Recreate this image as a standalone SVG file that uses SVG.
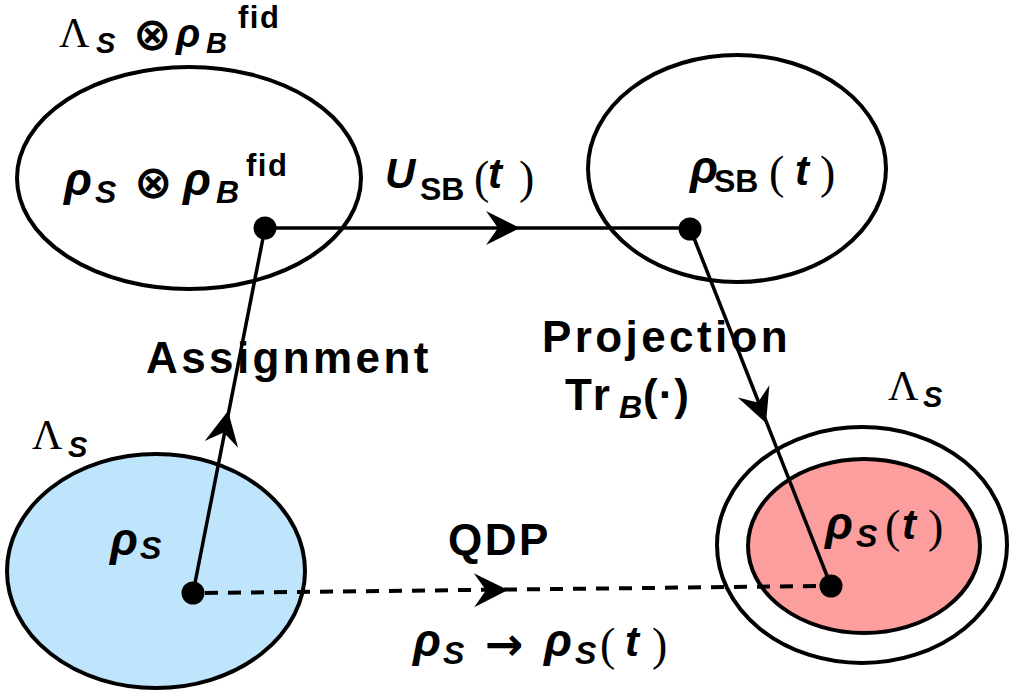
<svg xmlns="http://www.w3.org/2000/svg" xmlns:xlink="http://www.w3.org/1999/xlink" width="1009" height="695" viewBox="0 0 1009 695">
<style>
.ell{stroke:#000;stroke-width:4;}
.ln{stroke:#000;stroke-width:3.5;fill:none;}
.dash{stroke:#000;stroke-width:4;fill:none;stroke-dasharray:13 10;}
.dot{fill:#000;}
.rho{font-family:"Liberation Sans",Arial,sans-serif;font-style:italic;font-weight:bold;font-size:46px;}
.rhos{font-family:"Liberation Sans",Arial,sans-serif;font-style:italic;font-weight:bold;font-size:40px;}
.sub{font-family:"Liberation Sans",Arial,sans-serif;font-style:italic;font-weight:bold;font-size:32px;}
.subs{font-family:"Liberation Sans",Arial,sans-serif;font-style:italic;font-weight:bold;font-size:29px;}
.lam{font-family:"Liberation Serif","Times New Roman",serif;font-size:42px;}
.ot{font-family:"DejaVu Sans",sans-serif;font-weight:bold;font-size:46px;}
.par{font-family:"Liberation Serif","Times New Roman",serif;font-size:46px;}
.it{font-family:"Liberation Sans",Arial,sans-serif;font-style:italic;font-weight:bold;font-size:42px;}
.up{font-family:"Liberation Sans",Arial,sans-serif;font-weight:bold;font-size:32px;}
.fid{font-family:"Liberation Sans",Arial,sans-serif;font-weight:bold;font-size:31px;letter-spacing:1.5px;}
.lbl{font-family:"Liberation Sans",Arial,sans-serif;font-weight:bold;font-size:44px;letter-spacing:3.4px;}
.arr{font-family:"DejaVu Sans",sans-serif;font-weight:bold;font-size:46px;}
</style>
<defs>
<path id="ah" d="M0,0 L-34,-17 L-22,0 L-34,17 Z" fill="#000"/>
</defs>
<rect width="1009" height="695" fill="#fff"/>

<g id="node-joint">
<ellipse class="ell" cx="189" cy="178" rx="172" ry="111" fill="#fff"/>
<text><tspan class="lam" x="59" y="47">Λ</tspan><tspan class="subs" x="96" y="53">S</tspan><tspan class="ot" x="133" y="50">⊗</tspan><tspan class="rhos" x="176" y="47">ρ</tspan><tspan class="subs" x="206" y="53">B</tspan><tspan class="fid" x="238" y="28">fid</tspan></text>
<text><tspan class="rho" x="64" y="195">ρ</tspan><tspan class="sub" x="95" y="203">S</tspan><tspan class="ot" x="134" y="198">⊗</tspan><tspan class="rho" x="183" y="195">ρ</tspan><tspan class="sub" x="216" y="203">B</tspan><tspan class="fid" x="246" y="176">fid</tspan></text>
</g>

<g id="node-evolved">
<ellipse class="ell" cx="737" cy="168.5" rx="149" ry="113.5" fill="#fff"/>
<text><tspan class="rho" x="690" y="183">ρ</tspan><tspan class="up" x="714" y="192">SB</tspan><tspan class="par" x="769" y="188">(</tspan><tspan class="it" x="795" y="185">t</tspan><tspan class="par" x="820" y="188">)</tspan></text>
</g>

<g id="node-initial">
<ellipse class="ell" cx="156" cy="571" rx="149" ry="117" fill="#bfe5fc"/>
<text><tspan class="lam" x="32" y="449">Λ</tspan><tspan class="subs" x="68" y="457">S</tspan></text>
<text><tspan class="rho" x="110" y="555">ρ</tspan><tspan class="sub" x="140" y="559">S</tspan></text>
</g>

<g id="node-final">
<ellipse class="ell" cx="862" cy="545" rx="145" ry="118" fill="#fff"/>
<ellipse class="ell" cx="864" cy="546" rx="116" ry="87" fill="#fd9e9e"/>
<text><tspan class="lam" x="888" y="400">Λ</tspan><tspan class="subs" x="923" y="407">S</tspan></text>
<text><tspan class="rho" x="825" y="539">ρ</tspan><tspan class="sub" x="856" y="547">S</tspan><tspan class="par" x="885" y="542">(</tspan><tspan class="it" x="902" y="539">t</tspan><tspan class="par" x="928" y="542">)</tspan></text>
</g>

<g id="connectors">
<line class="ln" x1="265" y1="228" x2="690" y2="228"/>
<line class="ln" x1="193" y1="593" x2="265" y2="228"/>
<line class="ln" x1="690" y1="228" x2="831" y2="586"/>
<line class="dash" x1="205" y1="593" x2="820" y2="586"/>
<use xlink:href="#ah" transform="translate(520,228)"/>
<use xlink:href="#ah" transform="translate(228,411) rotate(-78.8)"/>
<use xlink:href="#ah" transform="translate(766,423) rotate(68.5)"/>
<use xlink:href="#ah" transform="translate(508,590) rotate(-0.6)"/>
<circle class="dot" cx="265" cy="228" r="11.5"/>
<circle class="dot" cx="690" cy="229" r="11.5"/>
<circle class="dot" cx="193" cy="593" r="11.5"/>
<circle class="dot" cx="831" cy="586" r="11.5"/>
<text><tspan class="it" x="385" y="188">U</tspan><tspan class="up" x="420" y="200">SB</tspan><tspan class="par" x="474" y="193">(</tspan><tspan class="it" x="488" y="188">t</tspan><tspan class="par" x="519" y="193">)</tspan></text>
<text class="lbl" x="146" y="373">Assignment</text>
<text class="lbl" x="542" y="352">Projection</text>
<text><tspan class="lbl" x="565" y="410">Tr</tspan><tspan class="sub" x="619" y="418">B</tspan><tspan class="lbl" x="643" y="410" style="letter-spacing:1px">(·)</tspan></text>
<text class="lbl" x="448" y="555" style="letter-spacing:2.5px">QDP</text>
<text><tspan class="rho" x="413" y="656">ρ</tspan><tspan class="sub" x="443" y="664">S</tspan><tspan class="arr" x="485" y="660">→</tspan><tspan class="rho" x="544" y="656">ρ</tspan><tspan class="sub" x="575" y="664">S</tspan><tspan class="par" x="600" y="660">(</tspan><tspan class="it" x="625" y="656">t</tspan><tspan class="par" x="652" y="660">)</tspan></text>
</g>
</svg>
